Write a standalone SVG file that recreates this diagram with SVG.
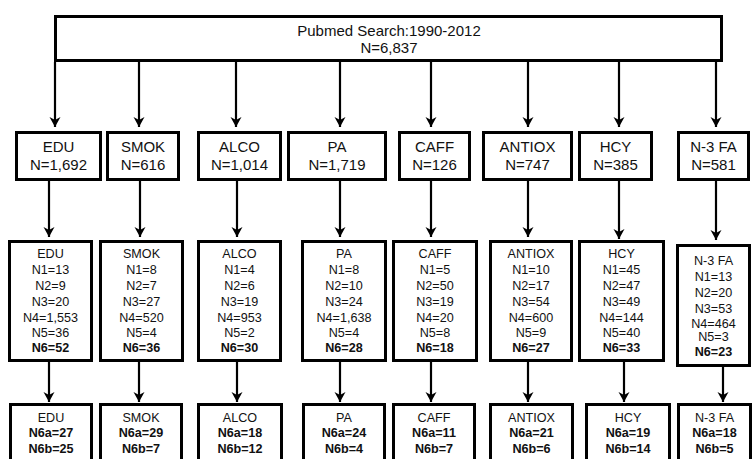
<svg xmlns="http://www.w3.org/2000/svg" width="752" height="459" viewBox="0 0 752 459">
<style>
.box{fill:#fff;stroke:#000;stroke-width:3}
text{font-family:"Liberation Sans",Arial,sans-serif;text-anchor:middle;fill:#111}
.t0{font-size:15px}
.t1{font-size:15px}
.t2{font-size:12.6px}
.b{font-weight:bold}
.arr{stroke:#000;stroke-width:2.2;fill:none;marker-end:url(#ah)}
</style>
<defs>
<marker id="ah" markerUnits="userSpaceOnUse" markerWidth="12" markerHeight="12" viewBox="0 0 12 12" refX="11" refY="6" orient="auto">
<path d="M1,0.5 L11,6 L1,11.5 L4,6 Z" fill="#000"/>
</marker>
</defs>
<rect width="752" height="459" fill="#fff"/>
<g id="connectors">
<path class="arr" d="M55,62V127"/><path class="arr" d="M139,62V127"/><path class="arr" d="M236,62V127"/><path class="arr" d="M340,62V127"/>
<path class="arr" d="M431,62V127"/><path class="arr" d="M528,62V127"/><path class="arr" d="M619,62V127"/><path class="arr" d="M716,62V127"/>
<path class="arr" d="M49,181V237"/><path class="arr" d="M140,181V237"/><path class="arr" d="M237,181V237"/><path class="arr" d="M340,181V237"/>
<path class="arr" d="M431,181V237"/><path class="arr" d="M528,181V237"/><path class="arr" d="M619,181V239"/><path class="arr" d="M716,181V240"/>
<path class="arr" d="M49,362V402"/><path class="arr" d="M139,362V402"/><path class="arr" d="M237,362V402"/><path class="arr" d="M340,362V402"/>
<path class="arr" d="M431,362V402"/><path class="arr" d="M528,362V402"/><path class="arr" d="M624,362V402"/><path class="arr" d="M723,367V402"/>
</g>
<g id="top"><rect class="box" x="55.5" y="16.5" width="666" height="44"/>
<text class="t0" x="389" y="36">Pubmed Search:1990-2012</text><text class="t0" x="389" y="53">N=6,837</text></g>

<g id="r1-edu"><rect class="box" x="16.5" y="132.5" width="84" height="47"/><text class="t1" x="58.5" y="152">EDU</text><text class="t1" x="58.5" y="170">N=1,692</text></g>
<g id="r1-smok"><rect class="box" x="107.5" y="132.5" width="71" height="47"/><text class="t1" x="143" y="152">SMOK</text><text class="t1" x="143" y="170">N=616</text></g>
<g id="r1-alco"><rect class="box" x="198.5" y="132.5" width="82" height="47"/><text class="t1" x="239.5" y="152">ALCO</text><text class="t1" x="239.5" y="170">N=1,014</text></g>
<g id="r1-pa"><rect class="box" x="288.5" y="132.5" width="97" height="47"/><text class="t1" x="337" y="152">PA</text><text class="t1" x="337" y="170">N=1,719</text></g>
<g id="r1-caff"><rect class="box" x="399.5" y="132.5" width="70" height="47"/><text class="t1" x="434.5" y="152">CAFF</text><text class="t1" x="434.5" y="170">N=126</text></g>
<g id="r1-antiox"><rect class="box" x="483.5" y="132.5" width="88" height="47"/><text class="t1" x="527.5" y="152">ANTIOX</text><text class="t1" x="527.5" y="170">N=747</text></g>
<g id="r1-hcy"><rect class="box" x="579.5" y="132.5" width="72" height="47"/><text class="t1" x="615.5" y="152">HCY</text><text class="t1" x="615.5" y="170">N=385</text></g>
<g id="r1-n3fa"><rect class="box" x="678.5" y="132.5" width="70" height="47"/><text class="t1" x="713.5" y="152">N-3 FA</text><text class="t1" x="713.5" y="170">N=581</text></g>

<g id="r2-edu"><rect class="box" x="9.5" y="241.5" width="82" height="119"/>
<text class="t2" x="50.5" y="258">EDU</text><text class="t2" x="50.5" y="274">N1=13</text><text class="t2" x="50.5" y="290">N2=9</text><text class="t2" x="50.5" y="306">N3=20</text><text class="t2" x="50.5" y="322">N4=1,553</text><text class="t2" x="50.5" y="337">N5=36</text><text class="t2 b" x="50.5" y="352">N6=52</text></g>
<g id="r2-smok"><rect class="box" x="100.5" y="241.5" width="82" height="119"/>
<text class="t2" x="141.5" y="258">SMOK</text><text class="t2" x="141.5" y="274">N1=8</text><text class="t2" x="141.5" y="290">N2=7</text><text class="t2" x="141.5" y="306">N3=27</text><text class="t2" x="141.5" y="322">N4=520</text><text class="t2" x="141.5" y="337">N5=4</text><text class="t2 b" x="141.5" y="352">N6=36</text></g>
<g id="r2-alco"><rect class="box" x="198.5" y="241.5" width="82" height="119"/>
<text class="t2" x="239.5" y="258">ALCO</text><text class="t2" x="239.5" y="274">N1=4</text><text class="t2" x="239.5" y="290">N2=6</text><text class="t2" x="239.5" y="306">N3=19</text><text class="t2" x="239.5" y="322">N4=953</text><text class="t2" x="239.5" y="337">N5=2</text><text class="t2 b" x="239.5" y="352">N6=30</text></g>
<g id="r2-pa"><rect class="box" x="302.5" y="241.5" width="83" height="119"/>
<text class="t2" x="344" y="258">PA</text><text class="t2" x="344" y="274">N1=8</text><text class="t2" x="344" y="290">N2=10</text><text class="t2" x="344" y="306">N3=24</text><text class="t2" x="344" y="322">N4=1,638</text><text class="t2" x="344" y="337">N5=4</text><text class="t2 b" x="344" y="352">N6=28</text></g>
<g id="r2-caff"><rect class="box" x="393.5" y="241.5" width="83" height="119"/>
<text class="t2" x="435" y="258">CAFF</text><text class="t2" x="435" y="274">N1=5</text><text class="t2" x="435" y="290">N2=50</text><text class="t2" x="435" y="306">N3=19</text><text class="t2" x="435" y="322">N4=20</text><text class="t2" x="435" y="337">N5=8</text><text class="t2 b" x="435" y="352">N6=18</text></g>
<g id="r2-antiox"><rect class="box" x="490.5" y="241.5" width="81" height="119"/>
<text class="t2" x="531" y="258">ANTIOX</text><text class="t2" x="531" y="274">N1=10</text><text class="t2" x="531" y="290">N2=17</text><text class="t2" x="531" y="306">N3=54</text><text class="t2" x="531" y="322">N4=600</text><text class="t2" x="531" y="337">N5=9</text><text class="t2 b" x="531" y="352">N6=27</text></g>
<g id="r2-hcy"><rect class="box" x="579.5" y="241.5" width="84" height="119"/>
<text class="t2" x="621.5" y="258">HCY</text><text class="t2" x="621.5" y="274">N1=45</text><text class="t2" x="621.5" y="290">N2=47</text><text class="t2" x="621.5" y="306">N3=49</text><text class="t2" x="621.5" y="322">N4=144</text><text class="t2" x="621.5" y="337">N5=40</text><text class="t2 b" x="621.5" y="352">N6=33</text></g>
<g id="r2-n3fa"><rect class="box" x="677.5" y="245.5" width="72" height="120"/>
<text class="t2" x="713.5" y="265">N-3 FA</text><text class="t2" x="713.5" y="281">N1=13</text><text class="t2" x="713.5" y="297">N2=20</text><text class="t2" x="713.5" y="313">N3=53</text><text class="t2" x="713.5" y="328">N4=464</text><text class="t2" x="713.5" y="341">N5=3</text><text class="t2 b" x="713.5" y="356">N6=23</text></g>

<g id="r3-edu"><rect class="box" x="10.5" y="404.5" width="81" height="70"/><text class="t2" x="51" y="422">EDU</text><text class="t2 b" x="51" y="437">N6a=27</text><text class="t2 b" x="51" y="453">N6b=25</text></g>
<g id="r3-smok"><rect class="box" x="100.5" y="404.5" width="81" height="70"/><text class="t2" x="141" y="422">SMOK</text><text class="t2 b" x="141" y="437">N6a=29</text><text class="t2 b" x="141" y="453">N6b=7</text></g>
<g id="r3-alco"><rect class="box" x="198.5" y="404.5" width="83" height="70"/><text class="t2" x="240" y="422">ALCO</text><text class="t2 b" x="240" y="437">N6a=18</text><text class="t2 b" x="240" y="453">N6b=12</text></g>
<g id="r3-pa"><rect class="box" x="303.5" y="404.5" width="81" height="70"/><text class="t2" x="344" y="422">PA</text><text class="t2 b" x="344" y="437">N6a=24</text><text class="t2 b" x="344" y="453">N6b=4</text></g>
<g id="r3-caff"><rect class="box" x="393.5" y="404.5" width="81" height="70"/><text class="t2" x="434" y="422">CAFF</text><text class="t2 b" x="434" y="437">N6a=11</text><text class="t2 b" x="434" y="453">N6b=7</text></g>
<g id="r3-antiox"><rect class="box" x="490.5" y="404.5" width="82" height="70"/><text class="t2" x="531.5" y="422">ANTIOX</text><text class="t2 b" x="531.5" y="437">N6a=21</text><text class="t2 b" x="531.5" y="453">N6b=6</text></g>
<g id="r3-hcy"><rect class="box" x="586.5" y="404.5" width="83" height="70"/><text class="t2" x="628" y="422">HCY</text><text class="t2 b" x="628" y="437">N6a=19</text><text class="t2 b" x="628" y="453">N6b=14</text></g>
<g id="r3-n3fa"><rect class="box" x="678.5" y="404.5" width="72" height="70"/><text class="t2" x="714.5" y="422">N-3 FA</text><text class="t2 b" x="714.5" y="437">N6a=18</text><text class="t2 b" x="714.5" y="453">N6b=5</text></g>
</svg>
